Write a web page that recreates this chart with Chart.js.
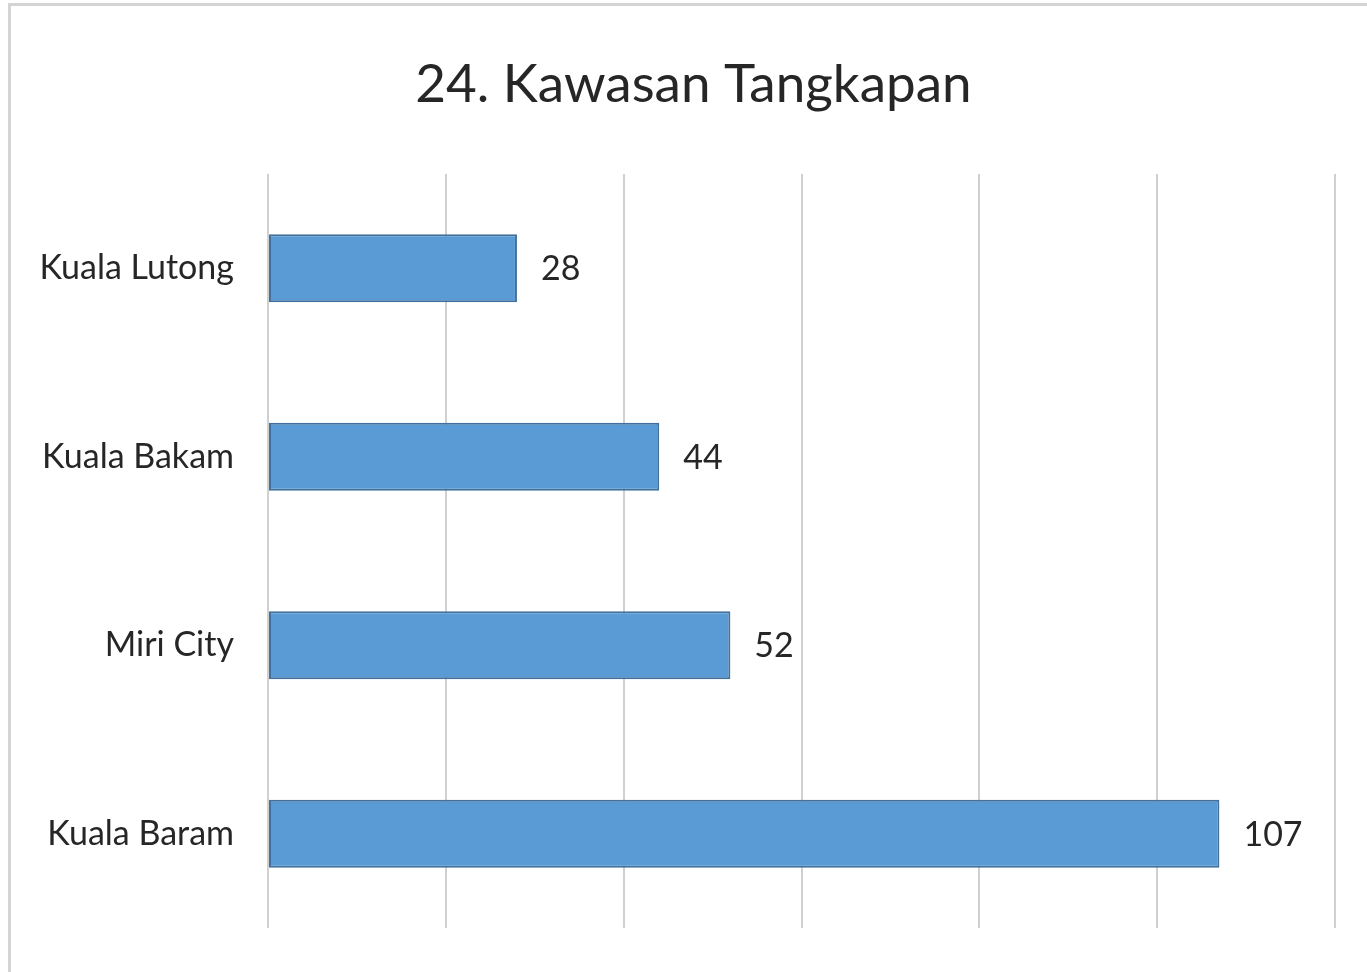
<!DOCTYPE html>
<html>
<head>
<meta charset="utf-8">
<title>24. Kawasan Tangkapan</title>
<script src="https://cdn.jsdelivr.net/npm/chart.js@4"></script>
<style>
  html, body { margin: 0; padding: 0; background: #fff; overflow: hidden; }
  #frame {
    position: absolute; left: 8px; top: 3px; width: 1400px; height: 1000px;
    border: 3px solid #d4d4d4; box-sizing: border-box;
  }
  #wrap { position: absolute; left: 0; top: 0; width: 1367px; height: 972px; }
</style>
</head>
<body>
<div id="frame"></div>
<div id="wrap"><canvas id="chart"></canvas></div>
<script>
const chartTitle = '24. Kawasan Tangkapan';
const categories = ['Kuala Lutong', 'Kuala Bakam', 'Miri City', 'Kuala Baram'];
const counts = [28, 44, 52, 107];
const xMax = 120;
const xStep = 20;

const fontFamily = 'Lato, "Open Sans", sans-serif';
const textColor = '#262626';

// value labels at the end of each bar
const barLabels = {
  id: 'barLabels',
  afterDatasetsDraw(chart) {
    const ctx = chart.ctx;
    const meta = chart.getDatasetMeta(0);
    ctx.save();
    ctx.font = '34px ' + fontFamily;
    ctx.fillStyle = textColor;
    ctx.textAlign = 'left';
    ctx.textBaseline = 'middle';
    meta.data.forEach((bar, i) => {
      ctx.fillText(String(counts[i]), bar.x + 24, bar.y + 1);
    });
    ctx.restore();
  }
};

// title sits a bit right of the canvas centre, like the original
const titleText = {
  id: 'titleText',
  afterDraw(chart) {
    const ctx = chart.ctx;
    ctx.save();
    ctx.font = '53px ' + fontFamily;
    ctx.fillStyle = textColor;
    ctx.textAlign = 'center';
    ctx.textBaseline = 'middle';
    ctx.fillText(chartTitle, chart.width / 2 + 10, 85);
    ctx.restore();
  }
};

new Chart(document.getElementById('chart').getContext('2d'), {
  type: 'bar',
  data: {
    labels: categories,
    datasets: [{
      label: 'Kawasan Tangkapan',
      data: counts,
      backgroundColor: '#5b9bd5',
      borderColor: '#41719c',
      borderWidth: 2,
      borderSkipped: false,
      barPercentage: 0.72,
      categoryPercentage: 0.5
    }]
  },
  options: {
    indexAxis: 'y',
    responsive: true,
    maintainAspectRatio: false,
    animation: false,
    layout: {
      padding: { left: 10, right: 32, top: 174, bottom: 44 }
    },
    scales: {
      x: {
        min: 0,
        max: xMax,
        ticks: { display: false, stepSize: xStep },
        grid: { color: '#d0d0d0', lineWidth: 2, drawTicks: false },
        border: { display: false },
        afterFit: (scale) => { scale.height = 0; }
      },
      y: {
        ticks: {
          color: textColor,
          padding: 34,
          font: { family: fontFamily, size: 34 }
        },
        grid: { display: false, drawTicks: false },
        border: { display: false },
        afterFit: (scale) => {
          scale.width = 258;
          scale.paddingTop = 0;
          scale.paddingBottom = 0;
        }
      }
    },
    plugins: {
      legend: { display: false },
      tooltip: { enabled: false },
      title: { display: false }
    }
  },
  plugins: [barLabels, titleText]
});
</script>
</body>
</html>
